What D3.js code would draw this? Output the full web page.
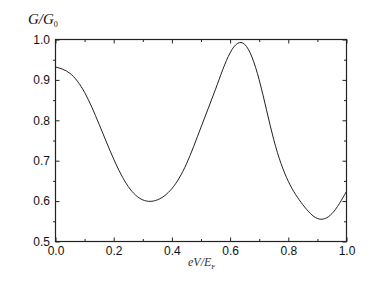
<!DOCTYPE html>
<html>
<head>
<meta charset="utf-8">
<script src="https://cdn.jsdelivr.net/npm/d3@7"></script>
<style>
  body { margin: 0; background: #fff; }
  .tick text { font-family: "Liberation Sans", Arial, sans-serif; font-size: 12px; fill: #111; }
  .tick line { stroke: #222; stroke-width: 1; }
</style>
</head>
<body>
<div id="chart"></div>
<script>
// data
const eV = [0.00, 0.05, 0.10, 0.15, 0.20, 0.25, 0.30, 0.35, 0.40, 0.45, 0.50,
            0.55, 0.60, 0.65, 0.70, 0.75, 0.80, 0.85, 0.90, 0.95, 1.00];
const G  = [0.932, 0.916, 0.869, 0.790, 0.704, 0.636, 0.603, 0.603, 0.631, 0.692, 0.783,
            0.877, 0.967, 0.988, 0.900, 0.752, 0.649, 0.591, 0.557, 0.569, 0.624];

const X_MAJOR = [0, 0.2, 0.4, 0.6, 0.8, 1.0];
const X_MINOR = [0.1, 0.3, 0.5, 0.7, 0.9];
const Y_MAJOR = [0.5, 0.6, 0.7, 0.8, 0.9, 1.0];
const Y_MINOR = [0.55, 0.65, 0.75, 0.85, 0.95];

const WIDTH = 382, HEIGHT = 286;
const PLOT = {left: 55.5, right: 346.5, top: 39.5, bottom: 241.5};

const xScale = d3.scaleLinear().domain([0, 1]).range([PLOT.left, PLOT.right]);
const yScale = d3.scaleLinear().domain([0.5, 1]).range([PLOT.bottom, PLOT.top]);

const svg = d3.select("#chart").append("svg")
    .attr("width", WIDTH)
    .attr("height", HEIGHT);

// bottom axis, labelled
svg.append("g")
    .attr("transform", "translate(0," + PLOT.bottom + ")")
    .call(d3.axisBottom(xScale).tickValues(X_MAJOR).tickSizeInner(-4).tickSizeOuter(0)
        .tickPadding(5).tickFormat(d3.format(".1f")))
    .call(g => g.select(".domain").remove());
svg.append("g")
    .attr("transform", "translate(0," + PLOT.bottom + ")")
    .call(d3.axisBottom(xScale).tickValues(X_MINOR).tickSizeInner(-2.5).tickSizeOuter(0).tickFormat(""))
    .call(g => g.select(".domain").remove());

// top axis, ticks only
svg.append("g")
    .attr("transform", "translate(0," + PLOT.top + ")")
    .call(d3.axisTop(xScale).tickValues(X_MAJOR).tickSizeInner(-4).tickSizeOuter(0).tickFormat(""))
    .call(g => g.select(".domain").remove());
svg.append("g")
    .attr("transform", "translate(0," + PLOT.top + ")")
    .call(d3.axisTop(xScale).tickValues(X_MINOR).tickSizeInner(-2.5).tickSizeOuter(0).tickFormat(""))
    .call(g => g.select(".domain").remove());

// left axis, labelled (minor ticks sit outside)
svg.append("g")
    .attr("transform", "translate(" + PLOT.left + ",0)")
    .call(d3.axisLeft(yScale).tickValues(Y_MAJOR).tickSizeInner(-4).tickSizeOuter(0)
        .tickPadding(5.5).tickFormat(d3.format(".1f")))
    .call(g => g.select(".domain").remove());
svg.append("g")
    .attr("transform", "translate(" + PLOT.left + ",0)")
    .call(d3.axisLeft(yScale).tickValues(Y_MINOR).tickSizeInner(2.5).tickSizeOuter(0).tickFormat(""))
    .call(g => g.select(".domain").remove());

// right axis, ticks only
svg.append("g")
    .attr("transform", "translate(" + PLOT.right + ",0)")
    .call(d3.axisRight(yScale).tickValues(Y_MAJOR).tickSizeInner(-4).tickSizeOuter(0).tickFormat(""))
    .call(g => g.select(".domain").remove());
svg.append("g")
    .attr("transform", "translate(" + PLOT.right + ",0)")
    .call(d3.axisRight(yScale).tickValues(Y_MINOR).tickSizeInner(-2.5).tickSizeOuter(0).tickFormat(""))
    .call(g => g.select(".domain").remove());

// frame
svg.append("rect")
    .attr("x", PLOT.left).attr("y", PLOT.top)
    .attr("width", PLOT.right - PLOT.left)
    .attr("height", PLOT.bottom - PLOT.top)
    .attr("fill", "none")
    .attr("stroke", "#222")
    .attr("stroke-width", 1.2);

// the curve
const points = eV.map((v, i) => [v, G[i]]);
svg.append("path")
    .datum(points)
    .attr("d", d3.line()
        .x(d => xScale(d[0]))
        .y(d => yScale(d[1]))
        .curve(d3.curveNatural))
    .attr("fill", "none")
    .attr("stroke", "#222")
    .attr("stroke-width", 1);

// axis titles
const yTitle = svg.append("text")
    .attr("x", 28).attr("y", 24)
    .attr("font-family", "'Liberation Serif', 'Times New Roman', serif")
    .attr("font-size", "15px")
    .attr("fill", "#111");
yTitle.append("tspan").attr("font-style", "italic").text("G/G");
yTitle.append("tspan").attr("font-size", "8px").attr("dy", 3).text("0");

const xTitle = svg.append("text")
    .attr("x", 188).attr("y", 266)
    .attr("font-family", "'Liberation Serif', 'Times New Roman', serif")
    .attr("font-size", "12px")
    .attr("fill", "#333");
xTitle.append("tspan").attr("font-style", "italic").text("eV/E");
xTitle.append("tspan").attr("font-size", "7px").attr("dy", 3).text("F");
</script>
</body>
</html>
